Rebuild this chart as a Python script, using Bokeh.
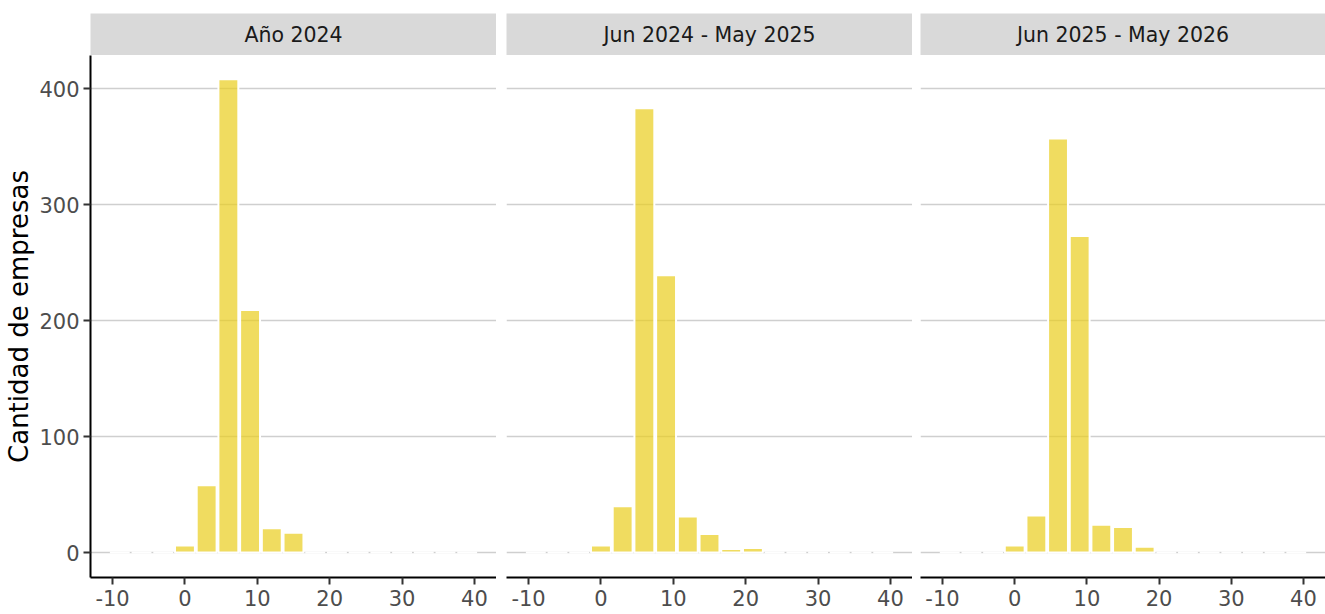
from bokeh.plotting import figure
from bokeh.layouts import row, column
from bokeh.models import Range1d, Label, FixedTicker
from bokeh.embed import file_html
from bokeh.resources import INLINE

# ---- data ----
panel_titles = ["Año 2024", "Jun 2024 - May 2025", "Jun 2025 - May 2026"]
bin_centers = [-9, -6, -3, 0, 3, 6, 9, 12, 15, 18, 21, 24, 27, 30, 33, 36, 39]
counts_2024 = [0, 0, 0, 6, 58, 408, 209, 21, 17, 0, 0, 0, 0, 0, 0, 0, 0]
counts_2425 = [0, 0, 0, 6, 40, 383, 239, 31, 16, 3, 4, 0, 0, 0, 0, 0, 0]
counts_2526 = [0, 0, 0, 6, 32, 357, 273, 24, 22, 5, 0, 0, 0, 0, 0, 0, 0]
x_ticks = [-10, 0, 10, 20, 30, 40]
x_tick_labels = {-10: "-10", 0: "0", 10: "10", 20: "20", 30: "30", 40: "40"}
y_ticks = [0, 100, 200, 300, 400]
y_title = "Cantidad de empresas"

FONT = "DejaVu Sans"
STRIP_TOP = 13
STRIP_H = 42
FRAME_H = 522
BOTTOM = 37
frame_widths = [406, 406, 405]
left_borders = [90, 10, 8]
series = [counts_2024, counts_2425, counts_2526]

cols = []
for i, (title, counts) in enumerate(zip(panel_titles, series)):
    lb = left_borders[i]
    fw = frame_widths[i]
    # strip header
    s = figure(frame_width=fw, frame_height=STRIP_H,
               x_range=Range1d(0, 1), y_range=Range1d(0, 1),
               min_border_left=lb, min_border_right=0, min_border_top=STRIP_TOP, min_border_bottom=0,
               x_axis_location=None, y_axis_location=None,
               toolbar_location=None, output_backend="svg",
               background_fill_color="#d9d9d9", outline_line_color=None,
               border_fill_color="white")
    s.grid.visible = False
    s.add_layout(Label(x=0.5, y=0.5, text=title, text_align="center",
                       text_baseline="middle", text_font_size="20.5px",
                       text_color="#1a1a1a", text_font=FONT))

    p = figure(frame_width=fw, frame_height=FRAME_H,
               x_range=Range1d(-13.05, 43.05), y_range=Range1d(-21.5, 428.5),
               min_border_left=lb, min_border_right=0, min_border_top=0, min_border_bottom=BOTTOM,
               y_axis_location="left" if i == 0 else None,
               toolbar_location=None, output_backend="svg",
               outline_line_color=None, background_fill_color="white",
               border_fill_color="white")
    p.xgrid.visible = False
    p.ygrid.ticker = FixedTicker(ticks=y_ticks)
    p.ygrid.grid_line_color = "#cfcfcf"
    p.ygrid.grid_line_width = 1.5

    p.vbar(x=bin_centers, top=counts, bottom=0, width=2.75,
           fill_color="#EACD1C", fill_alpha=0.7,
           line_color="white", line_width=2)

    xa = p.xaxis[0]
    xa.ticker = FixedTicker(ticks=x_ticks)
    xa.major_label_overrides = x_tick_labels
    xa.minor_tick_line_color = None
    xa.major_tick_out = 7
    xa.major_tick_in = 0
    xa.major_tick_line_color = "#333333"
    xa.major_tick_line_width = 2
    xa.axis_line_color = "black"
    xa.axis_line_width = 2
    xa.major_label_text_font = FONT
    xa.major_label_text_font_size = "21px"
    xa.major_label_text_color = "#4d4d4d"
    xa.major_label_standoff = 5

    if i == 0:
        ya = p.yaxis[0]
        ya.ticker = FixedTicker(ticks=y_ticks)
        ya.minor_tick_line_color = None
        ya.major_tick_out = 7
        ya.major_tick_in = 0
        ya.major_tick_line_color = "#333333"
        ya.major_tick_line_width = 2
        ya.axis_line_color = "black"
        ya.axis_line_width = 2
        ya.major_label_text_font = FONT
        ya.major_label_text_font_size = "21px"
        ya.major_label_text_color = "#4d4d4d"
        ya.major_label_standoff = 4
        ya.axis_label = y_title
        ya.axis_label_text_font = FONT
        ya.axis_label_text_font_size = "26px"
        ya.axis_label_text_font_style = "normal"
        ya.axis_label_text_color = "black"
        ya.axis_label_standoff = 2

    cols.append(column(s, p, spacing=0))

layout = row(*cols, spacing=0)

open("out.html", "w").write(file_html(layout, INLINE))
